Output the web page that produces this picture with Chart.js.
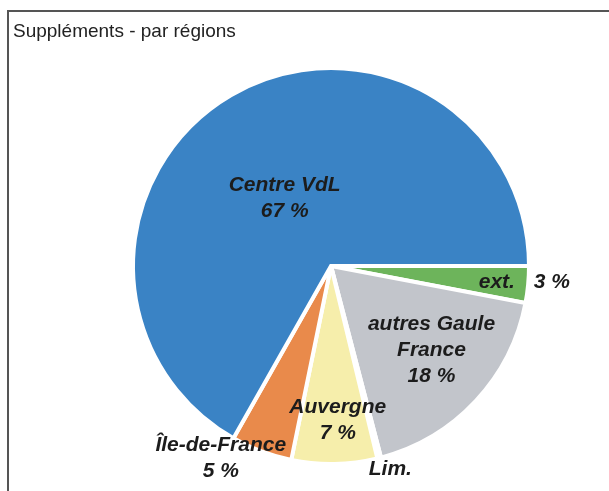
<!DOCTYPE html>
<html>
<head>
<meta charset="utf-8">
<script src="https://cdn.jsdelivr.net/npm/chart.js@4"></script>
<style>
  html, body { margin: 0; padding: 0; background: #fff; }
  #wrap { position: relative; width: 609px; height: 491px; overflow: hidden; }
  #frame { position: absolute; left: 7px; top: 10px; width: 700px; height: 600px;
           border-left: 2px solid #555; border-top: 2px solid #555; pointer-events: none; }
  canvas { position: absolute; left: 0; top: 0; }
</style>
</head>
<body>
<div id="wrap">
  <canvas id="c" width="609" height="491"></canvas>
  <div id="frame"></div>
</div>
<script>
// ---- data (clockwise from 3 o'clock) ----
const title = "Suppléments - par régions";
const categories = ["ext.", "autres Gaule France", "Lim.", "Auvergne", "Île-de-France", "Centre VdL"];
const values = [3, 18, 0.3, 7, 5, 67];
const percentLabels = ["3 %", "18 %", "", "7 %", "5 %", "67 %"];
const nameLines = [["ext."], ["autres Gaule", "France"], ["Lim."], ["Auvergne"], ["Île-de-France"], ["Centre VdL"]];
const colors = ["#6DB45B", "#C2C5CB", "#FFFFFF", "#F6EEAB", "#E98A4B", "#3A83C5"];

// label placement: radius fraction and angle shift (deg) from slice mid-angle
const placement = [
  { r: 0.85, da: 0.2, pctR: 1.13, pctDa: -1.1 },
  { r: 0.67, da: -3 },
  { r: 1.08, da: -2.2 },
  { r: 0.79, da: -1.5 },
  { r: 1.13, da: 9.3 },
  { r: 0.42, da: -4 }
];

const labelPlugin = {
  id: 'labels',
  afterDatasetsDraw(chart) {
    const ctx = chart.ctx;
    const meta = chart.getDatasetMeta(0);
    ctx.save();
    // title
    ctx.fillStyle = '#222';
    ctx.font = '19px "Liberation Sans", Arial, sans-serif';
    ctx.textAlign = 'left';
    ctx.textBaseline = 'alphabetic';
    ctx.fillText(title, 13, 37);

    ctx.font = 'italic bold 21px "Liberation Sans", Arial, sans-serif';
    ctx.fillStyle = '#1c1c1c';
    ctx.textAlign = 'center';
    ctx.textBaseline = 'middle';
    const lh = 26;
    meta.data.forEach((arc, i) => {
      const p = placement[i];
      const R = 196;
      const mid = (arc.startAngle + arc.endAngle) / 2;
      const a = mid + p.da * Math.PI / 180;
      const cx = arc.x + Math.cos(a) * R * p.r;
      const cy = arc.y + Math.sin(a) * R * p.r;
      let lines = nameLines[i].slice();
      if (p.pctR === undefined && percentLabels[i]) lines.push(percentLabels[i]);
      const y0 = cy - (lines.length - 1) * lh / 2;
      lines.forEach((t, k) => ctx.fillText(t, cx, y0 + k * lh));
      if (p.pctR !== undefined) {
        const b = mid + p.pctDa * Math.PI / 180;
        ctx.fillText(percentLabels[i], arc.x + Math.cos(b) * R * p.pctR, arc.y + Math.sin(b) * R * p.pctR);
      }
    });
    ctx.restore();
  }
};

new Chart(document.getElementById('c'), {
  type: 'pie',
  data: {
    labels: categories,
    datasets: [{
      data: values,
      backgroundColor: colors,
      borderColor: '#FFFFFF',
      borderWidth: 4,
      borderJoinStyle: 'miter'
    }]
  },
  options: {
    responsive: false,
    animation: false,
    rotation: 90,
    radius: 198,
    layout: { padding: { left: 60, right: 7, top: 50, bottom: 9 } },
    plugins: {
      legend: { display: false },
      tooltip: { enabled: false },
      title: { display: false }
    }
  },
  plugins: [labelPlugin]
});
</script>
</body>
</html>
